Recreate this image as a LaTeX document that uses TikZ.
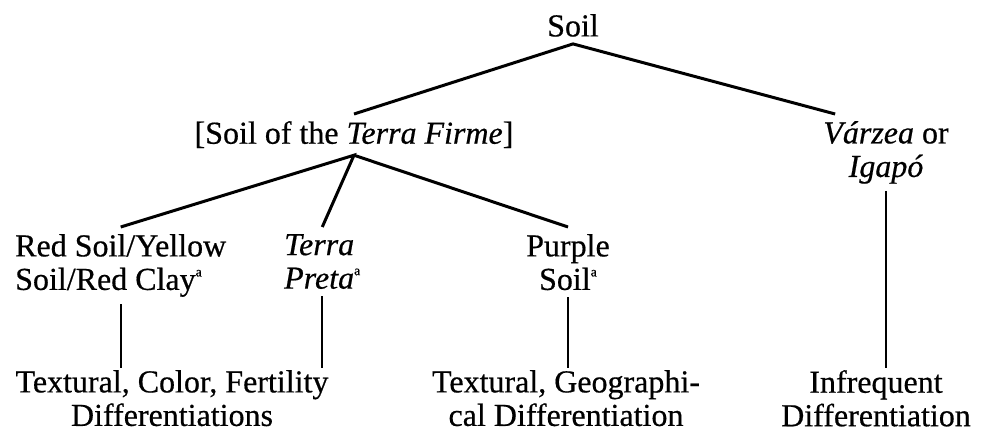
\documentclass[tikz,border=0pt]{standalone}
\usepackage{fontspec}
\setmainfont{Liberation Serif}[FakeBold=0.5]
\usepackage{tikz}
\usetikzlibrary{calc}
\tikzset{
  branch/.style={draw=black, line width=3pt},
  stem/.style={draw=black, line width=2.4pt},
  lab/.style={font=\fontsize{32}{33.5}\selectfont, align=center, inner xsep=0pt, inner ysep=7pt, anchor=north},
  labl/.style={lab, align=left, anchor=north west},
  labb/.style={lab, inner ysep=2pt}
}
\newcommand{\supa}{\raisebox{0.42em}{\fontsize{14}{14}\selectfont a}}

\begin{document}
\begin{tikzpicture}[x=1pt,y=-1pt]
  \useasboundingbox (0,0) rectangle (985,433);

  \node[lab] (soil) at (573,7) {Soil};
  \node[lab] (firme) at (354,114) {[Soil of the \textit{Terra Firme}]};
  \node[lab] (varzea) at (886,114) {\textit{Várzea} or\\\textit{Igapó}};

  \node[labl] (red) at (15,227) {Red Soil/Yellow\\Soil/Red Clay\supa};
  \node[labl] (preta) at (284,227) {\textit{Terra}\\\textit{Preta}\supa};
  \node[lab] (purple) at (568,227) {Purple\\Soil\supa};

  \node[labb] (diffA) at (172,368) {Textural, Color, Fertility\\Differentiations};
  \node[labb] (diffB) at (566,368) {Textural, Geographi-\\cal Differentiation};
  \node[labb] (diffC) at (876,368) {Infrequent\\Differentiation};

  \draw[branch] (firme.north) -- (soil.south) -- ([xshift=12pt]varzea.north west);
  \draw[branch] (red.north) -- (firme.south) -- (preta.north);
  \draw[branch] (firme.south) -- (purple.north);

  \draw[stem] (red.south) -- (red.south |- diffA.north);
  \draw[stem] (preta.south) -- (preta.south |- diffA.north);
  \draw[stem] (purple.south) -- (purple.south |- diffB.north);
  \draw[stem] (varzea.south) -- (varzea.south |- diffC.north); % long drop to the last row
\end{tikzpicture}
\end{document}
